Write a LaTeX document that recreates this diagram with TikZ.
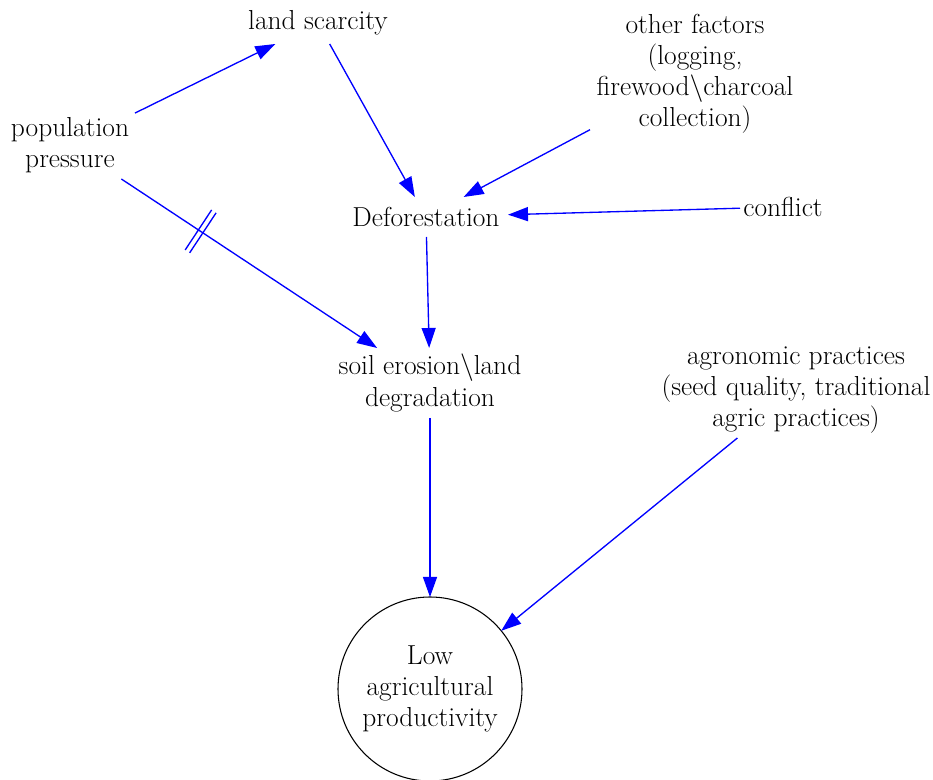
\documentclass[tikz,border=0pt]{standalone}
\usetikzlibrary{arrows.meta,decorations.markings}
\begin{document}
\begin{tikzpicture}[x=0.75pt,y=-0.75pt,
  lbl/.style={inner sep=0pt, outer sep=0pt, align=center, font=\rmfamily\fontsize{20.6pt}{23.3pt}\selectfont},
  conn/.style={draw=blue, line width=1pt, -{Triangle[length=15pt,width=10.5pt]}},
  ticks/.style={postaction={decorate}, decoration={markings,
     mark=at position 0.31 with {\draw[-, blue, line width=1pt] (-2pt,-18pt) -- (-2pt,18pt) (2pt,-18pt) -- (2pt,18pt);}}},
]
\useasboundingbox (0,0) rectangle (933,780);
\node[lbl, minimum width=108pt, minimum height=31.5pt] (land) at (318,23) {land scarcity};
\node[lbl, minimum width=97.5pt, minimum height=51pt] (pop) at (70,145) {population\\pressure};
\node[lbl, minimum width=157.5pt, minimum height=96pt] (other) at (695,74) {other factors\\(logging,\\firewood\textbackslash charcoal\\collection)};
\node[lbl, minimum width=123pt, minimum height=30pt] (def) at (426,217) {Deforestation};
\node[lbl, minimum width=64.5pt, minimum height=30pt] (conflict) at (783,207) {conflict};
\node[lbl, minimum width=138pt, minimum height=52.5pt] (soil) at (430,383) {soil erosion\textbackslash land\\degradation};
\node[lbl, minimum width=210pt, minimum height=72pt] (agro) at (796,390) {agronomic practices\\(seed quality, traditional\\agric practices)};
\node[lbl, draw=black, line width=0.8pt, circle, minimum size=138pt] (low) at (430,689) {Low\\agricultural\\productivity};

\draw[conn] (pop) -- (land);
\draw[conn] (land) -- (def);
\draw[conn] (other) -- (def);
\draw[conn] (conflict) -- (def);
\draw[conn, ticks] (pop) -- (soil);
\draw[conn] (def) -- (soil);
\draw[conn] (soil) -- (low);
\draw[conn] (agro) -- (low);
\end{tikzpicture}
\end{document}
